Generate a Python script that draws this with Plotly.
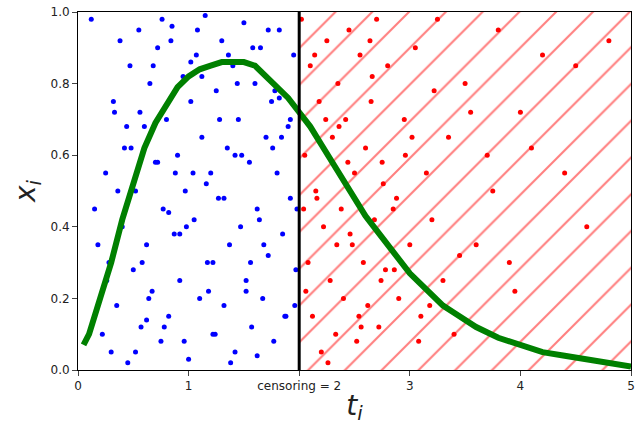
import plotly.graph_objects as go

blue_t = [0.12,0.15,0.22,0.25,0.28,0.3,0.33,0.35,0.38,0.4,0.42,0.45,0.47,0.5,0.52,0.55,0.57,0.6,0.62,0.65,0.67,0.7,0.72,0.75,0.77,0.8,0.82,0.85,0.87,0.9,0.92,0.95,0.97,1.0,1.02,1.05,1.07,1.1,1.12,1.15,1.17,1.2,1.22,1.25,1.27,1.3,1.32,1.35,1.37,1.4,1.42,1.45,1.47,1.5,1.52,1.55,1.57,1.6,1.62,1.65,1.67,1.7,1.72,1.75,1.77,1.8,1.82,1.85,1.87,1.9,1.92,1.95,1.97,0.18,0.36,0.48,0.58,0.68,0.78,0.88,0.98,1.08,1.18,1.28,1.38,1.48,1.58,1.68,1.78,1.88,1.98,0.44,0.64,0.84,1.04,1.24,1.44,1.64,1.84,0.26,0.56,0.76,0.96,1.16,1.36,1.56,1.76,1.96,0.32,0.52,0.72,0.92,1.12,1.32,1.52,1.72,1.92,0.62,0.82,1.02,1.22,1.42,1.62,1.82]
blue_x = [0.98,0.45,0.1,0.55,0.3,0.05,0.72,0.18,0.92,0.4,0.62,0.02,0.85,0.28,0.5,0.95,0.12,0.68,0.35,0.8,0.22,0.58,0.9,0.08,0.45,0.7,0.15,0.96,0.38,0.6,0.25,0.82,0.5,0.03,0.75,0.42,0.88,0.2,0.65,0.99,0.3,0.55,0.1,0.78,0.48,0.92,0.18,0.62,0.35,0.85,0.05,0.7,0.4,0.97,0.25,0.58,0.12,0.8,0.45,0.9,0.2,0.65,0.32,0.75,0.08,0.55,0.95,0.38,0.15,0.68,0.48,0.88,0.28,0.35,0.5,0.62,0.3,0.85,0.12,0.55,0.4,0.95,0.22,0.7,0.02,0.6,0.9,0.35,0.78,0.15,0.45,0.68,0.2,0.92,0.55,0.1,0.8,0.42,0.65,0.25,0.72,0.98,0.08,0.52,0.88,0.3,0.62,0.18,0.75,0.05,0.58,0.38,0.82,0.48,0.22,0.95,0.7,0.14,0.44,0.86,0.3,0.6,0.04,0.76]
red_t = [2.02,2.05,2.08,2.1,2.12,2.15,2.18,2.2,2.22,2.25,2.28,2.3,2.33,2.35,2.38,2.4,2.42,2.45,2.48,2.5,2.52,2.55,2.58,2.6,2.62,2.65,2.68,2.7,2.72,2.75,2.78,2.8,2.85,2.9,2.95,3.0,3.05,3.1,3.15,3.2,3.25,3.3,3.35,3.4,3.5,3.6,3.7,3.8,3.9,4.0,4.2,4.4,4.6,4.8,2.06,2.16,2.26,2.36,2.46,2.56,2.66,2.76,2.86,2.96,3.08,3.22,3.45,3.75,4.1,4.5,2.04,2.14,2.24,2.34,2.44,2.54,2.64,2.74,2.88,3.02,3.18,3.55,3.95]
red_x = [0.98,0.6,0.3,0.85,0.15,0.5,0.75,0.05,0.4,0.92,0.25,0.65,0.1,0.8,0.45,0.2,0.7,0.95,0.35,0.55,0.08,0.88,0.3,0.62,0.18,0.75,0.42,0.98,0.12,0.58,0.28,0.85,0.45,0.2,0.7,0.35,0.9,0.15,0.55,0.42,0.98,0.25,0.65,0.1,0.8,0.35,0.6,0.95,0.3,0.72,0.88,0.55,0.4,0.92,0.22,0.48,0.02,0.68,0.38,0.12,0.82,0.52,0.28,0.6,0.08,0.78,0.32,0.5,0.62,0.85,0.45,0.88,0.7,0.35,0.58,0.15,0.92,0.25,0.48,0.65,0.18,0.72,0.22]
curve_t = [0.05,0.1,0.2,0.3,0.4,0.5,0.6,0.7,0.8,0.9,1.0,1.1,1.2,1.3,1.4,1.5,1.6,1.7,1.8,1.9,2.0,2.1,2.2,2.3,2.4,2.5,2.6,2.7,2.8,2.9,3.0,3.1,3.2,3.3,3.4,3.5,3.6,3.8,4.0,4.2,4.4,4.6,4.8,5.0]
curve_x = [0.07,0.1,0.2,0.3,0.42,0.52,0.62,0.69,0.74,0.79,0.82,0.84,0.85,0.86,0.86,0.86,0.85,0.82,0.79,0.76,0.72,0.68,0.63,0.58,0.53,0.48,0.43,0.39,0.35,0.31,0.27,0.24,0.21,0.18,0.16,0.14,0.12,0.09,0.07,0.05,0.04,0.03,0.02,0.01]
censor = 2

fig = go.Figure()
fig.add_trace(go.Scatter(x=[censor,5,5,censor,censor], y=[0,0,1,1,0], mode="lines", fill="toself",
    fillcolor="rgba(0,0,0,0)", line=dict(width=0),
    fillpattern=dict(shape="/", fgcolor="red", bgcolor="white", size=26, solidity=0.08), hoverinfo="skip"))
fig.add_trace(go.Scatter(x=blue_t, y=blue_x, mode="markers", marker=dict(color="blue", size=5)))
fig.add_trace(go.Scatter(x=red_t, y=red_x, mode="markers", marker=dict(color="red", size=5)))
fig.add_trace(go.Scatter(x=curve_t, y=curve_x, mode="lines", line=dict(color="green", width=6)))
fig.add_trace(go.Scatter(x=[censor,censor], y=[0,1], mode="lines", line=dict(color="black", width=3)))
fig.update_layout(width=640, height=436, showlegend=False, plot_bgcolor="white", paper_bgcolor="white",
    margin=dict(l=78, r=5, t=7, b=66), font=dict(family="DejaVu Sans", size=12, color="#222"))
fig.update_xaxes(range=[0,5], tickvals=[0,1,2,3,4,5], ticktext=["0","1","censoring = 2","3","4","5"],
    showgrid=False, zeroline=False, showline=True, linecolor="black", mirror=True, ticks="outside",
    title=dict(text="<i>t<sub>i</sub></i>", font=dict(size=28), standoff=2))
fig.update_yaxes(range=[0,1], tickvals=[0,0.2,0.4,0.6,0.8,1.0], ticktext=["0.0","0.2","0.4","0.6","0.8","1.0"],
    showgrid=False, zeroline=False, showline=True, linecolor="black", mirror=True, ticks="outside",
    title=dict(text="<i>x<sub>i</sub></i>", font=dict(size=28), standoff=6))
fig.write_html("out.html", config={"displayModeBar": False},
    post_script="document.body.style.margin='0';document.body.style.overflow='hidden';")
